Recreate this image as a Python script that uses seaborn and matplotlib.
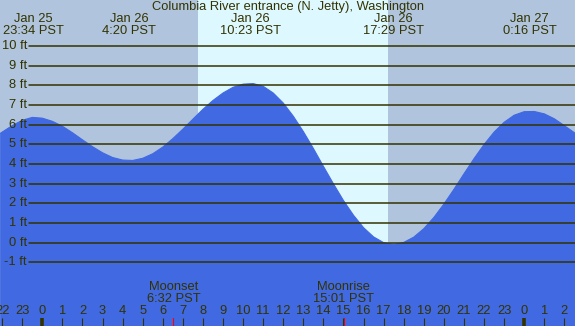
import matplotlib
matplotlib.use("Agg")
import matplotlib.pyplot as plt
import matplotlib.transforms as mtransforms
import pandas as pd
import seaborn as sns

# tide heights (ft), hours from Jan 26 00:00 PST
hours = [-2.1, -2.0, -1.5, -1.0, -0.5, 0.0, 0.5, 1.0, 1.5, 2.0, 2.5, 3.0, 3.5, 4.0,
         4.5, 5.0, 5.5, 6.0, 6.5, 7.0, 7.5, 8.0, 8.5, 9.0, 9.5, 10.0, 10.5, 11.0,
         11.5, 12.0, 12.5, 13.0, 13.5, 14.0, 14.5, 15.0, 15.5, 16.0, 16.5, 17.0,
         17.5, 18.0, 18.5, 19.0, 19.5, 20.0, 20.5, 21.0, 21.5, 22.0, 22.5, 23.0,
         23.5, 24.0, 24.5, 25.0, 25.5, 26.0, 26.5, 26.6]
heights = [5.55, 5.62, 5.95, 6.22, 6.37, 6.33, 6.17, 5.92, 5.59, 5.23, 4.88, 4.57, 4.33, 4.20,
           4.18, 4.29, 4.52, 4.86, 5.29, 5.77, 6.28, 6.78, 7.23, 7.61, 7.90, 8.06, 8.09, 7.95,
           7.61, 7.10, 6.43, 5.65, 4.79, 3.88, 2.99, 2.14, 1.39, 0.76, 0.29, 0.00,
           -0.09, 0.01, 0.28, 0.71, 1.28, 1.96, 2.71, 3.50, 4.27, 4.99, 5.62, 6.12,
           6.48, 6.66, 6.67, 6.55, 6.30, 5.95, 5.59, 5.52]

# high / low tide events
ext_hours = [-0.433, 4.333, 10.383, 17.483, 24.267]
ext_dates = ["Jan 25", "Jan 26", "Jan 26", "Jan 26", "Jan 27"]
ext_times = ["23:34 PST", "4:20 PST", "10:23 PST", "17:29 PST", "0:16 PST"]

# moon events
moon_hours = [6.533, 15.017]
moon_names = ["Moonset", "Moonrise"]
moon_times = ["6:32 PST", "15:01 PST"]

sunrise = 7.77
sunset = 17.23

ft_levels = list(range(-1, 11))
tick_hours = list(range(-2, 27))

title = "Columbia River entrance (N. Jetty), Washington"

df = pd.DataFrame({"hour": hours, "height": heights})

sns.set_style("white")
plt.rcParams["font.family"] = ["Liberation Sans", "DejaVu Sans"]

W, H = 575, 326
FS = 9.3
fig = plt.figure(figsize=(W / 100, H / 100), dpi=100)
ax = fig.add_axes([0, 0, 1, 1])
x0, x1 = -2.107, 26.53
y0, y1 = -4.24, 12.34
ax.set_xlim(x0, x1)
ax.set_ylim(y0, y1)
ax.set_axis_off()

night = "#b0c4de"
day = "#ddf8ff"
water = "#4169e1"
ink = "#333300"

# background: night / day / night
ax.axvspan(x0, sunrise, color=night, lw=0, zorder=0)
ax.axvspan(sunrise, sunset, color=day, lw=0, zorder=0)
ax.axvspan(sunset, x1, color=night, lw=0, zorder=0)

# water
ax.fill_between(df["hour"], df["height"], y0 - 1, color=water, lw=0, zorder=1)
sns.lineplot(data=df, x="hour", y="height", color=water, lw=0.8, ax=ax, zorder=2)

# horizontal ft lines and labels
tr_y = mtransforms.blended_transform_factory(ax.transAxes, ax.transData)
for lv in ft_levels:
    ax.plot([29 / W, 1], [lv, lv], transform=tr_y, color=ink, lw=1.1, zorder=3)
    ax.text(27 / W, lv, f"{lv} ft", transform=tr_y, ha="right", va="center",
            fontsize=FS, color=ink, zorder=4)

tr_x = mtransforms.blended_transform_factory(ax.transData, ax.transAxes)

def fy(px):
    return 1 - px / H

# title
ax.text(0.5, fy(7), title, transform=ax.transAxes, ha="center", va="center",
        fontsize=FS, color=ink, zorder=4)

# tide extremes
for h, d, t in zip(ext_hours, ext_dates, ext_times):
    ax.text(h, fy(19.5), d, transform=tr_x, ha="center", va="center", fontsize=FS, color=ink, zorder=4)
    ax.text(h, fy(31.5), t, transform=tr_x, ha="center", va="center", fontsize=FS, color=ink, zorder=4)

# moon events
for h, n, t in zip(moon_hours, moon_names, moon_times):
    ax.text(h, fy(287.5), n, transform=tr_x, ha="center", va="center", fontsize=FS, color=ink, zorder=4)
    ax.text(h, fy(299.5), t, transform=tr_x, ha="center", va="center", fontsize=FS, color=ink, zorder=4)
    ax.plot([h, h], [0, 8 / H], transform=tr_x, color="red", lw=0.8, zorder=4)

# hour ticks
for h in tick_hours:
    ax.text(h, fy(311.5), str(h % 24), transform=tr_x, ha="center", va="center",
            fontsize=FS, color=ink, zorder=4)
    lw = 2.6 if h % 24 == 0 else 0.8
    ax.plot([h, h], [0, 8 / H], transform=tr_x, color=ink, lw=lw, zorder=4,
            solid_capstyle="butt")

fig.savefig("out.png", dpi=100)
